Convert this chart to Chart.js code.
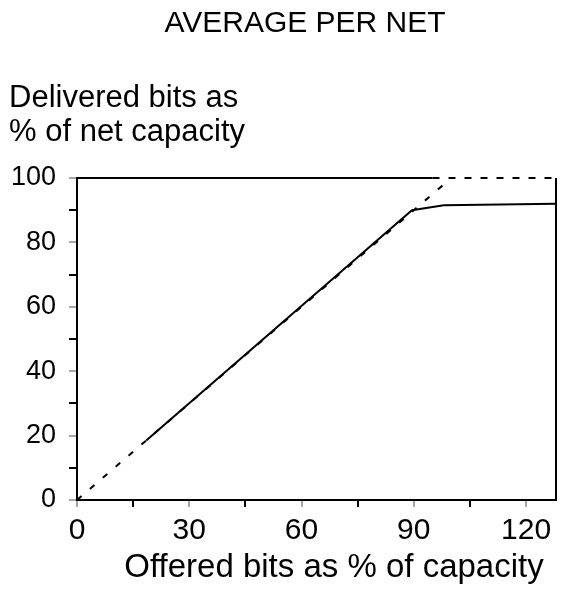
<!DOCTYPE html>
<html>
<head>
<meta charset="utf-8">
<script src="https://cdn.jsdelivr.net/npm/chart.js@4"></script>
<style>
  html, body { margin: 0; padding: 0; background: #fff; }
  #wrap { width: 564px; height: 590px; }
</style>
</head>
<body>
<div id="wrap"><canvas id="c" width="564" height="590"></canvas></div>
<script>
// Offered load vs delivered throughput, averaged per net
const chartTitle = "AVERAGE PER NET";
const yTitleLines = ["Delivered bits as", "% of net capacity"];
const xTitle = "Offered bits as % of capacity";

// Ideal line: delivered equals offered, up to full capacity
const idealX = [0, 100];
const idealY = [0, 100];

// Measured average delivered throughput
const measuredX = [18.5, 89.5, 98, 128];
const measuredY = [18.5, 90, 91.5, 92];

const xTickLabels = [0, 30, 60, 90, 120];
const yTickLabels = [0, 20, 40, 60, 80, 100];

const FONT = "'Liberation Sans', Arial, Helvetica, sans-serif";

const toPoints = (xs, ys) => xs.map((x, i) => ({ x: x, y: ys[i] }));

// Titles and the top/right edges of the plot frame
const decor = {
  id: 'decor',
  afterDraw(chart) {
    const ctx = chart.ctx;
    const a = chart.chartArea;
    const xs = chart.scales.x;
    ctx.save();
    ctx.fillStyle = '#000';
    ctx.textBaseline = 'middle';
    ctx.textAlign = 'center';
    ctx.font = '30px ' + FONT;
    ctx.fillText(chartTitle, 305, 24);
    ctx.textAlign = 'left';
    ctx.font = '31px ' + FONT;
    ctx.fillText(yTitleLines[0], 9, 98);
    ctx.fillText(yTitleLines[1], 9, 132);
    ctx.textAlign = 'center';
    ctx.font = '33px ' + FONT;
    ctx.fillText(xTitle, 334, 568);

    ctx.strokeStyle = '#000';
    ctx.lineWidth = 2;
    // top edge: solid, then broken further right
    const xSplit = xs.getPixelForValue(95);
    ctx.beginPath();
    ctx.moveTo(a.left, a.top);
    ctx.lineTo(xSplit, a.top);
    ctx.stroke();
    ctx.setLineDash([7, 9]);
    ctx.beginPath();
    ctx.moveTo(xSplit, a.top);
    ctx.lineTo(a.right, a.top);
    ctx.stroke();
    ctx.setLineDash([]);
    // right edge
    ctx.beginPath();
    ctx.moveTo(a.right, a.top);
    ctx.lineTo(a.right, a.bottom);
    ctx.stroke();
    ctx.restore();
  }
};

new Chart(document.getElementById('c'), {
  type: 'scatter',
  data: {
    datasets: [
      {
        label: 'Ideal',
        data: toPoints(idealX, idealY),
        showLine: true,
        borderColor: '#000',
        borderWidth: 2,
        borderDash: [6, 11],
        pointRadius: 0,
        fill: false
      },
      {
        label: 'Delivered',
        data: toPoints(measuredX, measuredY),
        showLine: true,
        borderColor: '#000',
        borderWidth: 2,
        pointRadius: 0,
        tension: 0,
        fill: false
      }
    ]
  },
  options: {
    responsive: false,
    animation: false,
    devicePixelRatio: 1,
    layout: { padding: { top: 178, right: 8, left: 0, bottom: 0 } },
    plugins: {
      legend: { display: false },
      tooltip: { enabled: false },
      title: { display: false }
    },
    scales: {
      x: {
        type: 'linear',
        min: 0,
        max: 128,
        afterFit(s) { s.height = 90; },
        afterBuildTicks(s) {
          const t = [];
          for (let v = 0; v <= 120; v += 15) t.push({ value: v });
          s.ticks = t;
        },
        border: { display: true, color: '#000', width: 2 },
        grid: {
          drawOnChartArea: false,
          drawTicks: true,
          tickLength: 7,
          lineWidth: 2,
          color: (c) => (c.tick && xTickLabels.includes(c.tick.value)) ? 'rgba(0,0,0,0.35)' : '#000'
        },
        ticks: {
          color: '#000',
          padding: 6,
          maxRotation: 0,
          autoSkip: false,
          font: { family: FONT, size: 30 },
          callback: (v) => xTickLabels.includes(v) ? String(v) : ''
        }
      },
      y: {
        type: 'linear',
        min: 0,
        max: 100,
        afterFit(s) { s.width = 77; },
        afterBuildTicks(s) {
          const t = [];
          for (let v = 0; v <= 100; v += 10) t.push({ value: v });
          s.ticks = t;
        },
        border: { display: true, color: '#000', width: 2 },
        grid: {
          drawOnChartArea: false,
          drawTicks: true,
          tickLength: 8,
          lineWidth: 2,
          color: (c) => (c.tick && yTickLabels.includes(c.tick.value)) ? 'rgba(0,0,0,0.35)' : '#000'
        },
        ticks: {
          color: '#000',
          padding: 13,
          autoSkip: false,
          font: { family: FONT, size: 27 },
          callback: (v) => yTickLabels.includes(v) ? String(v) : ''
        }
      }
    }
  },
  plugins: [decor]
});
</script>
</body>
</html>
